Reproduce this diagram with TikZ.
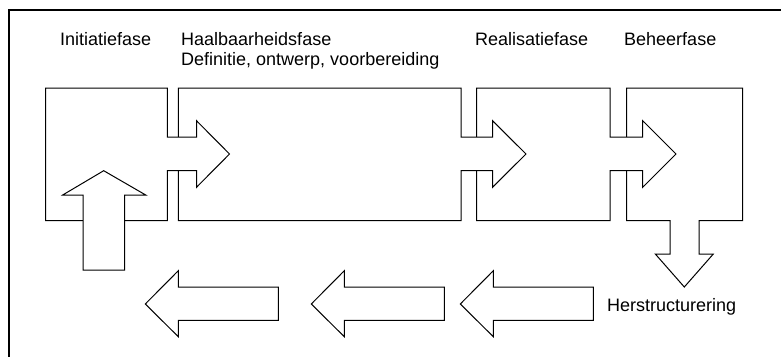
\documentclass[tikz,border=0pt]{standalone}
\usepackage{fontspec}
\setmainfont{Liberation Sans}
\begin{document}
\begin{tikzpicture}[x=1pt,y=-1pt,
  block/.style={draw=black,fill=white,line width=1pt,line join=miter},
  outerframe/.style={draw=black,line width=1.6pt},
  phase/.style={inner sep=0pt,anchor=base west,font=\fontsize{18}{20}\selectfont}]
\useasboundingbox (0,0) rectangle (781,356);
\clip (0,0) rectangle (781,356);
% outer frame (runs past the page on the right and bottom)
\draw[outerframe] (9,10) rectangle (800,380);

% phase headings
\node[phase] (initiatie) at (60,45) {Initiatiefase};
\node[phase] (haalbaar) at (181,45) {Haalbaarheidsfase};
\node[phase] (definitie) at (181,65) {Definitie, ontwerp, voorbereiding};
\node[phase] (realisatie) at (475,45) {Realisatiefase};
\node[phase] (beheer) at (624,45) {Beheerfase};
\node[phase] (herstruct) at (607,311.5) {Herstructurering};

% Beheerfase block with downward arrow
\path[block] (626.7,88) -- (742.5,88) -- (742.5,220.7) -- (699,220.7) -- (699,254)
  -- (713.3,254) -- (684.3,287) -- (655.3,254) -- (670,254) -- (670,220.7)
  -- (626.7,220.7) -- cycle;
% Realisatiefase block with arrow into Beheerfase
\path[block] (476.7,88) -- (610,88) -- (610,137.2) -- (642.7,137.2) -- (642.7,120.7)
  -- (676,154) -- (642.7,187.3) -- (642.7,170.7) -- (610,170.7) -- (610,220.7)
  -- (476.7,220.7) -- cycle;
% Haalbaarheidsfase block with arrow into Realisatiefase
\path[block] (178.3,88) -- (461,88) -- (461,137.2) -- (492.5,137.2) -- (492.5,120.7)
  -- (526,154) -- (492.5,187.3) -- (492.5,170.7) -- (461,170.7) -- (461,220.7)
  -- (178.3,220.7) -- cycle;
% Initiatiefase block with arrow into Haalbaarheidsfase
\path[block] (45.5,88) -- (167.3,88) -- (167.3,137.2) -- (196.5,137.2) -- (196.5,120.7)
  -- (229.5,154) -- (196.5,187.3) -- (196.5,170.7) -- (167.3,170.7) -- (167.3,220.7)
  -- (45.5,220.7) -- cycle;
% upward arrow into Initiatiefase
\path[block] (83,270) -- (83,195) -- (62.7,195) -- (103.7,170.7) -- (145.7,195)
  -- (124.7,195) -- (124.7,270) -- cycle;

% return arrows along the bottom
\path[block] (593.3,287) -- (493.3,287) -- (493.3,270.7) -- (460.3,304) -- (493.3,336.7)
  -- (493.3,320.3) -- (593.3,320.3) -- cycle;
\path[block] (444.3,287) -- (344.3,287) -- (344.3,270.7) -- (311.3,304) -- (344.3,336.7)
  -- (344.3,320.3) -- (444.3,320.3) -- cycle;
\path[block] (278.3,287) -- (178.3,287) -- (178.3,270.7) -- (145.3,304) -- (178.3,336.7)
  -- (178.3,320.3) -- (278.3,320.3) -- cycle;
\end{tikzpicture}
\end{document}
